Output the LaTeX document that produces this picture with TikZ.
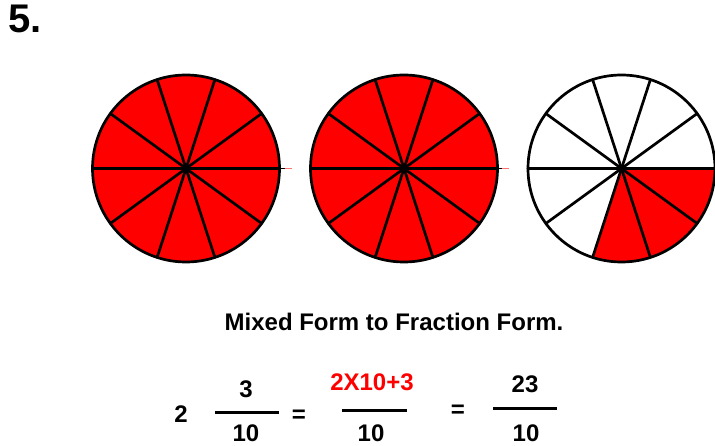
\documentclass[tikz,border=0pt]{standalone}
\usepackage{fontspec}
\setmainfont{Liberation Sans}
\usetikzlibrary{calc}
\definecolor{pie}{RGB}{255,0,0}
\tikzset{
  spoke/.style={line width=2.7pt, black, line cap=round},
  rim/.style={line width=2.7pt, black},
  txt/.style={inner sep=0pt, anchor=base, font=\fontsize{24}{28}\selectfont\bfseries},
  fracbar/.style={line width=3pt, black},
  tick/.style={line width=1pt, pie!55},
}
\begin{document}
\begin{tikzpicture}[x=1pt,y=1pt]
\useasboundingbox (0,0) rectangle (715,445);
\def\R{93.5}
\coordinate (c1) at (186,276.5);
\coordinate (c2) at (404,276.5);
\coordinate (c3) at (621.5,276.5);
% fills
\fill[pie] (c1) circle[radius=\R];
\fill[pie] (c2) circle[radius=\R];
\fill[pie] (c3) -- ++(0:\R) arc[start angle=0, end angle=-108, radius=\R] -- cycle;
% spokes
\foreach \c in {c1,c2,c3}{
  \foreach \a in {0,36,...,324}{
    \draw[spoke] (\c) -- ++(\a:\R);
  }
  \draw[rim] (\c) circle[radius=\R];
  \fill[black] (\c) circle[radius=3.5];
}
% small ticks
\draw[line width=1.2pt, black] ($(c1)+(\R,0)$) -- ++(5,0);
\draw[tick] ($(c1)+(\R+5,0)$) -- ++(7,0);
\draw[line width=1.2pt, black] ($(c2)+(\R,0)$) -- ++(4,0);
\draw[tick] ($(c2)+(\R+4,0)$) -- ++(7,0);
% heading
\node[inner sep=0pt, anchor=base west, font=\fontsize{40}{44}\selectfont\bfseries] (num) at (8,412) {5.};
\node[txt] (title) at (394,115) {Mixed Form to Fraction Form.};
% equation
\node[txt] (whole) at (181,23) {2};
\node[txt] (n1) at (246,48) {3};
\node[txt] (d1) at (246,4) {10};
\draw[fracbar] (215,33) -- (279,33);
\node[txt] (eq1) at (299,23) {=};
\node[txt, text=pie] (n2) at (372,55) {2X10+3};
\node[txt] (d2) at (371,4) {10};
\draw[fracbar] (342,35) -- (407,35);
\node[txt] (eq2) at (458,28) {=};
\node[txt] (n3) at (525,53) {23};
\node[txt] (d3) at (526,4) {10};
\draw[fracbar] (493,37) -- (557,37);
\end{tikzpicture}
\end{document}
